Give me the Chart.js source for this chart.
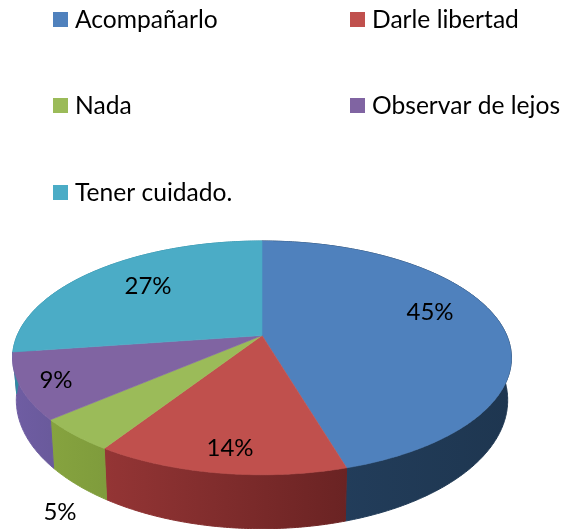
<!DOCTYPE html>
<html><head><meta charset="utf-8">
<style>html,body{margin:0;padding:0;background:#fff}#w{position:relative;width:572px;height:529px}</style>
<script src="https://cdn.jsdelivr.net/npm/chart.js@4"></script></head>
<body><div id="w"><canvas id="c" width="572" height="529"></canvas></div>
<script>
const categories = ["Acompañarlo","Darle libertad","Nada","Observar de lejos","Tener cuidado."];
const values = [45.45,13.64,4.55,9.09,27.27];
const valueLabels = ["45%","14%","5%","9%","27%"];
const topColors = ["#4f81bd","#c0504d","#9bbb59","#8064a2","#4bacc6"];
const wallLight = ["#24405f","#943535","#86a33f","#6f5da3","#2f8aa3"];
const wallDark  = ["#1e3650","#6a2323","#7f9c3c","#6a5a9c","#2f8aa3"];

const apex = {x:262,y:335.5}, X = 244.8, A = 112.6, K = 0.1915;
const bottom = {sx:.985, sy:1.10, dy:40};
const legendSpots = [[53,12],[350,12],[53,98],[350,98],[53,185]];
const labelSpots = [[430,312],[230,448],[60,512],[56,380],[148,286]];
const LEGEND_FONT = '24.6px Lato, "Open Sans", sans-serif';
const LABEL_FONT = '24px Lato, "Open Sans", sans-serif';

function ring(a, floor){
  const w = 1 - K*Math.sin(a);
  const x = X*Math.cos(a)/w, y = A*Math.sin(a)/w;
  return floor ? [apex.x + x*bottom.sx, apex.y + y*bottom.sy + bottom.dy]
               : [apex.x + x, apex.y + y];
}
function sweep(a0,a1){
  const n = Math.max(2, Math.ceil((a1-a0)/0.01)), out=[];
  for(let i=0;i<=n;i++) out.push(a0+(a1-a0)*i/n);
  return out;
}
const pie3d = {
  id:'pie3d',
  beforeDatasetsDraw(chart){
    const ctx = chart.ctx, arcs = chart.getDatasetMeta(0).data;
    ctx.save();
    arcs.forEach((arc,i)=>{
      const as = sweep(arc.startAngle,arc.endAngle);
      const pts = as.map(a=>ring(a,false)), low = as.map(a=>ring(a,true)).reverse();
      const xs = pts.map(p=>p[0]);
      const g = ctx.createLinearGradient(Math.min(...xs),0,Math.max(...xs),0);
      g.addColorStop(0,wallLight[i]); g.addColorStop(1,wallDark[i]);
      ctx.fillStyle = g; ctx.strokeStyle = g; ctx.lineWidth = 1;
      ctx.beginPath();
      pts.concat(low).forEach((p,j)=> j?ctx.lineTo(p[0],p[1]):ctx.moveTo(p[0],p[1]));
      ctx.closePath(); ctx.fill(); ctx.stroke();
    });
    arcs.forEach((arc,i)=>{
      const pts = sweep(arc.startAngle,arc.endAngle).map(a=>ring(a,false));
      ctx.fillStyle = topColors[i]; ctx.strokeStyle = topColors[i]; ctx.lineWidth = .6;
      ctx.beginPath(); ctx.moveTo(apex.x,apex.y);
      pts.forEach(p=>ctx.lineTo(p[0],p[1]));
      ctx.closePath(); ctx.fill(); ctx.stroke();
    });
    ctx.restore();
    return false;
  },
  afterDraw(chart){
    const ctx = chart.ctx;
    ctx.save();
    ctx.font = LEGEND_FONT; ctx.textBaseline='alphabetic';
    categories.forEach((c,i)=>{
      const [x,y] = legendSpots[i];
      ctx.fillStyle = topColors[i]; ctx.fillRect(x,y,15,15);
      ctx.fillStyle = '#000'; ctx.textAlign='left';
      ctx.fillText(c,x+22,y+16);
    });
    ctx.font = LABEL_FONT; ctx.textAlign='center'; ctx.textBaseline='middle';
    valueLabels.forEach((t,i)=>ctx.fillText(t,labelSpots[i][0],labelSpots[i][1]));
    ctx.restore();
  }
};
new Chart(document.getElementById('c'),{
  type:'pie',
  data:{labels:categories,datasets:[{data:values,backgroundColor:topColors,borderWidth:0}]},
  options:{responsive:false,animation:false,
    plugins:{legend:{display:false},tooltip:{enabled:false}}},
  plugins:[pie3d]
});
</script></body></html>
